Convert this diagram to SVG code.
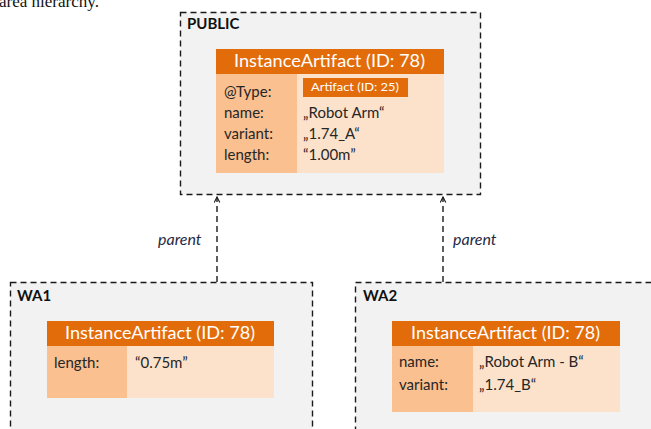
<svg xmlns="http://www.w3.org/2000/svg" width="651" height="429" viewBox="0 0 651 429">
<defs>
<style>
.area{fill:#f2f2f2;stroke:#1a1a1a;stroke-width:1.4;stroke-dasharray:6 4}
.atitle{font-family:Lato,"Open Sans",sans-serif;font-weight:bold;font-size:15px;fill:#111}
.hdr{fill:#e36c0a}
.lcol{fill:#fac090}
.rcol{fill:#fde2cb}
.ttl{font-family:Lato,"Open Sans",sans-serif;font-size:18px;fill:#ffffff}
.lbl{font-family:Lato,"Open Sans",sans-serif;font-size:15px;fill:#262626}
.tag{font-family:Lato,"Open Sans",sans-serif;font-size:12px;fill:#ffffff}
.par{font-family:Lato,"Open Sans",sans-serif;font-size:16px;font-style:italic;fill:#1f2a44}
.conn{fill:none;stroke:#1a1a1a;stroke-width:1.4;stroke-dasharray:6 4}
.cap{font-family:"Liberation Serif",serif;font-size:17px;fill:#111}
</style>
<marker id="arr" viewBox="0 0 10 10" refX="9" refY="5" markerWidth="7" markerHeight="7" markerUnits="userSpaceOnUse" orient="auto">
<path d="M1,1 L9,5 L1,9" fill="none" stroke="#1a1a1a" stroke-width="1.6"/>
</marker>
</defs>
<rect width="651" height="429" fill="#ffffff"/>
<text class="cap" x="-1" y="7">area hierarchy.</text>

<g id="public">
<rect class="area" x="180.5" y="12.5" width="300" height="182"/>
<text class="atitle" x="187" y="29">PUBLIC</text>
<g id="public-artifact">
<rect class="hdr" x="216" y="49" width="228" height="25"/>
<rect class="lcol" x="216" y="74" width="81" height="99"/>
<rect class="rcol" x="297" y="74" width="147" height="99"/>
<text class="ttl" x="234" y="67" textLength="191" lengthAdjust="spacingAndGlyphs">InstanceArtifact (ID: 78)</text>
<rect class="hdr" x="303" y="78" width="105" height="19"/>
<text class="tag" x="311" y="91" textLength="88" lengthAdjust="spacingAndGlyphs">Artifact (ID: 25)</text>
<text class="lbl" x="224" y="97">@Type:</text>
<text class="lbl" x="224" y="118">name:</text>
<text class="lbl" x="224" y="139">variant:</text>
<text class="lbl" x="224" y="160">length:</text>
<text class="lbl" x="303" y="118">„Robot Arm“</text>
<text class="lbl" x="303" y="139">„1.74_A“</text>
<text class="lbl" x="303" y="160">“1.00m”</text>
</g>
</g>

<g id="wa1">
<rect class="area" x="10.5" y="282.5" width="302" height="170"/>
<text class="atitle" x="17" y="301">WA1</text>
<g id="wa1-artifact">
<rect class="hdr" x="47" y="321" width="227" height="25"/>
<rect class="lcol" x="47" y="346" width="80" height="52"/>
<rect class="rcol" x="127" y="346" width="147" height="52"/>
<text class="ttl" x="65" y="339" textLength="190" lengthAdjust="spacingAndGlyphs">InstanceArtifact (ID: 78)</text>
<text class="lbl" x="54" y="368">length:</text>
<text class="lbl" x="135" y="368">“0.75m”</text>
</g>
</g>

<g id="wa2">
<rect class="area" x="355.5" y="282.5" width="310" height="170"/>
<text class="atitle" x="363" y="301">WA2</text>
<g id="wa2-artifact">
<rect class="hdr" x="392" y="321" width="228" height="25"/>
<rect class="lcol" x="392" y="346" width="81" height="66"/>
<rect class="rcol" x="473" y="346" width="147" height="66"/>
<text class="ttl" x="411" y="339" textLength="189" lengthAdjust="spacingAndGlyphs">InstanceArtifact (ID: 78)</text>
<text class="lbl" x="399" y="367">name:</text>
<text class="lbl" x="399" y="390">variant:</text>
<text class="lbl" x="479" y="367">„Robot Arm - B“</text>
<text class="lbl" x="479" y="390">„1.74_B“</text>
</g>
</g>

<g id="connectors">
<line class="conn" x1="217" y1="282" x2="217" y2="197" marker-end="url(#arr)"/>
<line class="conn" x1="443" y1="282" x2="443" y2="197" marker-end="url(#arr)"/>
<text class="par" x="158" y="245">parent</text>
<text class="par" x="453" y="245">parent</text>
</g>
</svg>
